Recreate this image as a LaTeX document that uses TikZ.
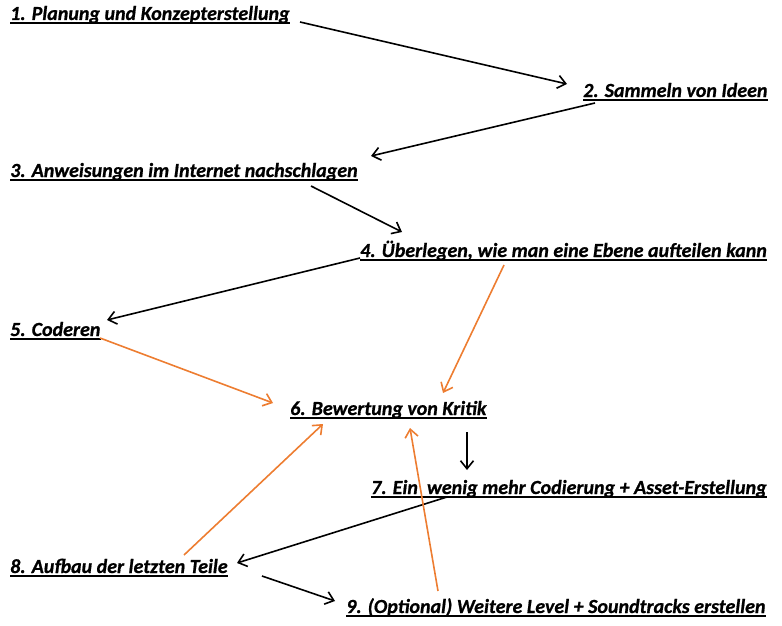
\documentclass[tikz,border=0pt]{standalone}
\usepackage{fontspec}
\setmainfont{Carlito}[BoldItalicFeatures={FakeBold=0.8}]
\usetikzlibrary{arrows.meta,calc}
\definecolor{clFeedback}{HTML}{ED7D31}
\tikzset{
  steplabel/.style={anchor=base west, inner sep=0pt,
                    font=\fontsize{20}{22}\selectfont\bfseries\itshape},
  uline/.style={line width=1.3pt},
  flow/.style={-{Straight Barb[length=8pt,width=13pt]}, line width=1.6pt},
  feedback/.style={flow, draw=clFeedback},
}

\begin{document}
\begin{tikzpicture}[x=1pt,y=-1pt]
  \useasboundingbox (0,0) rectangle (782,626);
  % steps
  \node[steplabel] (s1) at (10,20)   {1. Planung und Konzepterstellung};
  \node[steplabel] (s2) at (583,97)  {2. Sammeln von Ideen};
  \node[steplabel] (s3) at (10,177)  {3. Anweisungen im Internet nachschlagen};
  \node[steplabel] (s4) at (360,257) {4. Überlegen, wie man eine Ebene aufteilen kann};
  \node[steplabel] (s5) at (10,336)  {5. Coderen};
  \node[steplabel] (s6) at (290,415) {6. Bewertung von Kritik};
  \node[steplabel] (s7) at (371,494) {7. Ein\ \ wenig mehr Codierung + Asset-Erstellung};
  \node[steplabel] (s8) at (10,573)  {8. Aufbau der letzten Teile};
  \node[steplabel] (s9) at (346,613) {9. (Optional) Weitere Level + Soundtracks erstellen};
  \foreach \i in {1,...,9}
    \draw[uline] ([yshift=-3pt]s\i.base west) -- ([yshift=-3pt]s\i.base east);
  % main sequence
  \draw[flow] ([shift={(290,2)}]s1.base west) -- ([shift={(-16,-13)}]s2.base west);
  \draw[flow] ([shift={(12,6)}]s2.base west) -- ([shift={(361,-21)}]s3.base west);
  \draw[flow] ([shift={(301,9)}]s3.base west) -- ([shift={(42,-25)}]s4.base west);
  \draw[flow] ([shift={(0,1)}]s4.base west) -- ([shift={(97,-16)}]s5.base west);
  \draw[flow] ([shift={(177,17)}]s6.base west) -- ([shift={(96,-24)}]s7.base west);
  \draw[flow] ([shift={(76,3)}]s7.base west) -- ([shift={(227,-10)}]s8.base west);
  \draw[flow] ([shift={(252,3)}]s8.base west) -- ([shift={(-11,-12)}]s9.base west);
  % back to the review
  \draw[feedback] ([shift={(90,2)}]s5.base west) -- ([shift={(-17,-12)}]s6.base west);
  \draw[feedback] ([shift={(144,8)}]s4.base west) -- ([shift={(153,-22)}]s6.base west);
  \draw[feedback] ([shift={(174,-18)}]s8.base west) -- ([shift={(33,9)}]s6.base west);
  \draw[feedback] ([shift={(92,-22)}]s9.base west) -- ([shift={(120,13)}]s6.base west);
\end{tikzpicture}
\end{document}
